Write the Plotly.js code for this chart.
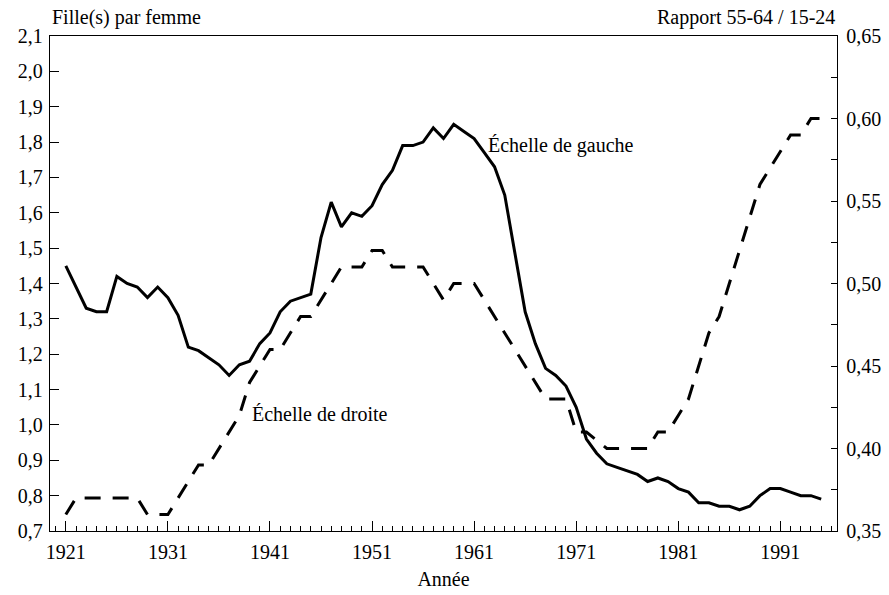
<!DOCTYPE html>
<html>
<head>
<meta charset="utf-8">
<script src="https://cdn.plot.ly/plotly-3.0.1.min.js"></script>
<style>html,body{margin:0;padding:0;background:#fff;}#chart{width:889px;height:595px;}</style>
</head>
<body>
<div id="chart"></div>
<script>
// Years 1921..1995
const years = [1921,1922,1923,1924,1925,1926,1927,1928,1929,1930,
  1931,1932,1933,1934,1935,1936,1937,1938,1939,1940,
  1941,1942,1943,1944,1945,1946,1947,1948,1949,1950,
  1951,1952,1953,1954,1955,1956,1957,1958,1959,1960,
  1961,1962,1963,1964,1965,1966,1967,1968,1969,1970,
  1971,1972,1973,1974,1975,1976,1977,1978,1979,1980,
  1981,1982,1983,1984,1985,1986,1987,1988,1989,1990,
  1991,1992,1993,1994,1995];

// Filles par femme (échelle de gauche)
const fillesParFemme = [1.45,1.39,1.33,1.32,1.32,1.42,1.40,1.39,1.36,1.39,
  1.36,1.31,1.22,1.21,1.19,1.17,1.14,1.17,1.18,1.23,
  1.26,1.32,1.35,1.36,1.37,1.53,1.63,1.56,1.60,1.59,
  1.62,1.68,1.72,1.79,1.79,1.80,1.84,1.81,1.85,1.83,
  1.81,1.77,1.73,1.65,1.49,1.32,1.23,1.16,1.14,1.11,
  1.05,0.96,0.92,0.89,0.88,0.87,0.86,0.84,0.85,0.84,
  0.82,0.81,0.78,0.78,0.77,0.77,0.76,0.77,0.80,0.82,
  0.82,0.81,0.80,0.80,0.79];

// Rapport 55-64 / 15-24 (échelle de droite)
const rapport = [0.36,0.37,0.37,0.37,0.37,0.37,0.37,0.37,0.36,0.36,
  0.36,0.37,0.38,0.39,0.39,0.40,0.41,0.42,0.44,0.45,
  0.46,0.46,0.47,0.48,0.48,0.49,0.50,0.51,0.51,0.51,
  0.52,0.52,0.51,0.51,0.51,0.51,0.50,0.49,0.50,0.50,
  0.50,0.49,0.48,0.47,0.46,0.45,0.44,0.43,0.43,0.43,
  0.41,0.41,0.405,0.40,0.40,0.40,0.40,0.40,0.41,0.41,
  0.42,0.43,0.45,0.47,0.48,0.50,0.52,0.54,0.56,0.57,
  0.58,0.59,0.59,0.60,0.60];

const FONT = 'Liberation Serif, Times New Roman, serif';
const FS = 20;

const traces = [
  {x: years, y: fillesParFemme, type: 'scatter', mode: 'lines', name: 'Échelle de gauche',
   line: {color: '#000', width: 3}, yaxis: 'y'},
  {x: years, y: rapport, type: 'scatter', mode: 'lines', name: 'Échelle de droite',
   line: {color: '#000', width: 3, dash: '16px,12px'}, yaxis: 'y2'}
];

const layout = {
  width: 889, height: 595,
  margin: {l: 50, r: 52, t: 36, b: 64},
  paper_bgcolor: '#fff', plot_bgcolor: '#fff',
  showlegend: false,
  separators: ', ',
  font: {family: FONT, size: FS, color: '#000'},
  xaxis: {
    range: [1919.45, 1996.55], tick0: 1921, dtick: 10, tickmode: 'linear',
    ticks: 'inside', ticklen: 10, tickwidth: 1, tickcolor: '#000',
    minor: {tick0: 1921, dtick: 1, ticks: 'inside', ticklen: 5, tickwidth: 1, tickcolor: '#000'},
    showline: true, linecolor: '#000', linewidth: 1.3, mirror: true,
    showgrid: false, zeroline: false, ticklabelstandoff: 3,
    tickfont: {family: FONT, size: FS, color: '#000'},
    title: {text: 'Année', font: {family: FONT, size: FS, color: '#000'}, standoff: 9}
  },
  yaxis: {
    range: [0.7, 2.1], tick0: 0.7, dtick: 0.1, tickmode: 'linear', tickformat: '.1f',
    ticks: 'inside', ticklen: 9, tickwidth: 1, tickcolor: '#000',
    showline: true, linecolor: '#000', linewidth: 1.3,
    showgrid: false, zeroline: false, ticklabelstandoff: 2,
    tickfont: {family: FONT, size: FS, color: '#000'}
  },
  yaxis2: {
    range: [0.35, 0.65], tick0: 0.35, dtick: 0.05, tickmode: 'linear', tickformat: '.2f',
    overlaying: 'y', side: 'right',
    ticks: 'inside', ticklen: 6, tickwidth: 1, tickcolor: '#000',
    minor: {dtick: 0.025, ticks: 'inside', ticklen: 6, tickwidth: 1, tickcolor: '#000'},
    showline: true, linecolor: '#000', linewidth: 1.3,
    showgrid: false, zeroline: false, ticklabelstandoff: 4,
    tickfont: {family: FONT, size: FS, color: '#000'}
  },
  annotations: [
    {text: 'Fille(s) par femme', xref: 'paper', yref: 'paper', x: 0, y: 1.038,
     xanchor: 'left', yanchor: 'middle', showarrow: false, font: {family: FONT, size: FS, color: '#000'}},
    {text: 'Rapport 55-64 / 15-24', xref: 'paper', yref: 'paper', x: 1, y: 1.038,
     xanchor: 'right', yanchor: 'middle', showarrow: false, font: {family: FONT, size: FS, color: '#000'}},
    {text: 'Échelle de gauche', xref: 'x', yref: 'y', x: 1962.2, y: 1.79,
     xanchor: 'left', yanchor: 'middle', showarrow: false, font: {family: FONT, size: FS, color: '#000'}},
    {text: 'Échelle de droite', xref: 'x', yref: 'y', x: 1939.0, y: 1.032,
     xanchor: 'left', yanchor: 'middle', showarrow: false, font: {family: FONT, size: FS, color: '#000'}}
  ]
};

Plotly.newPlot('chart', traces, layout, {displayModeBar: false, staticPlot: true});
</script>
</body>
</html>
